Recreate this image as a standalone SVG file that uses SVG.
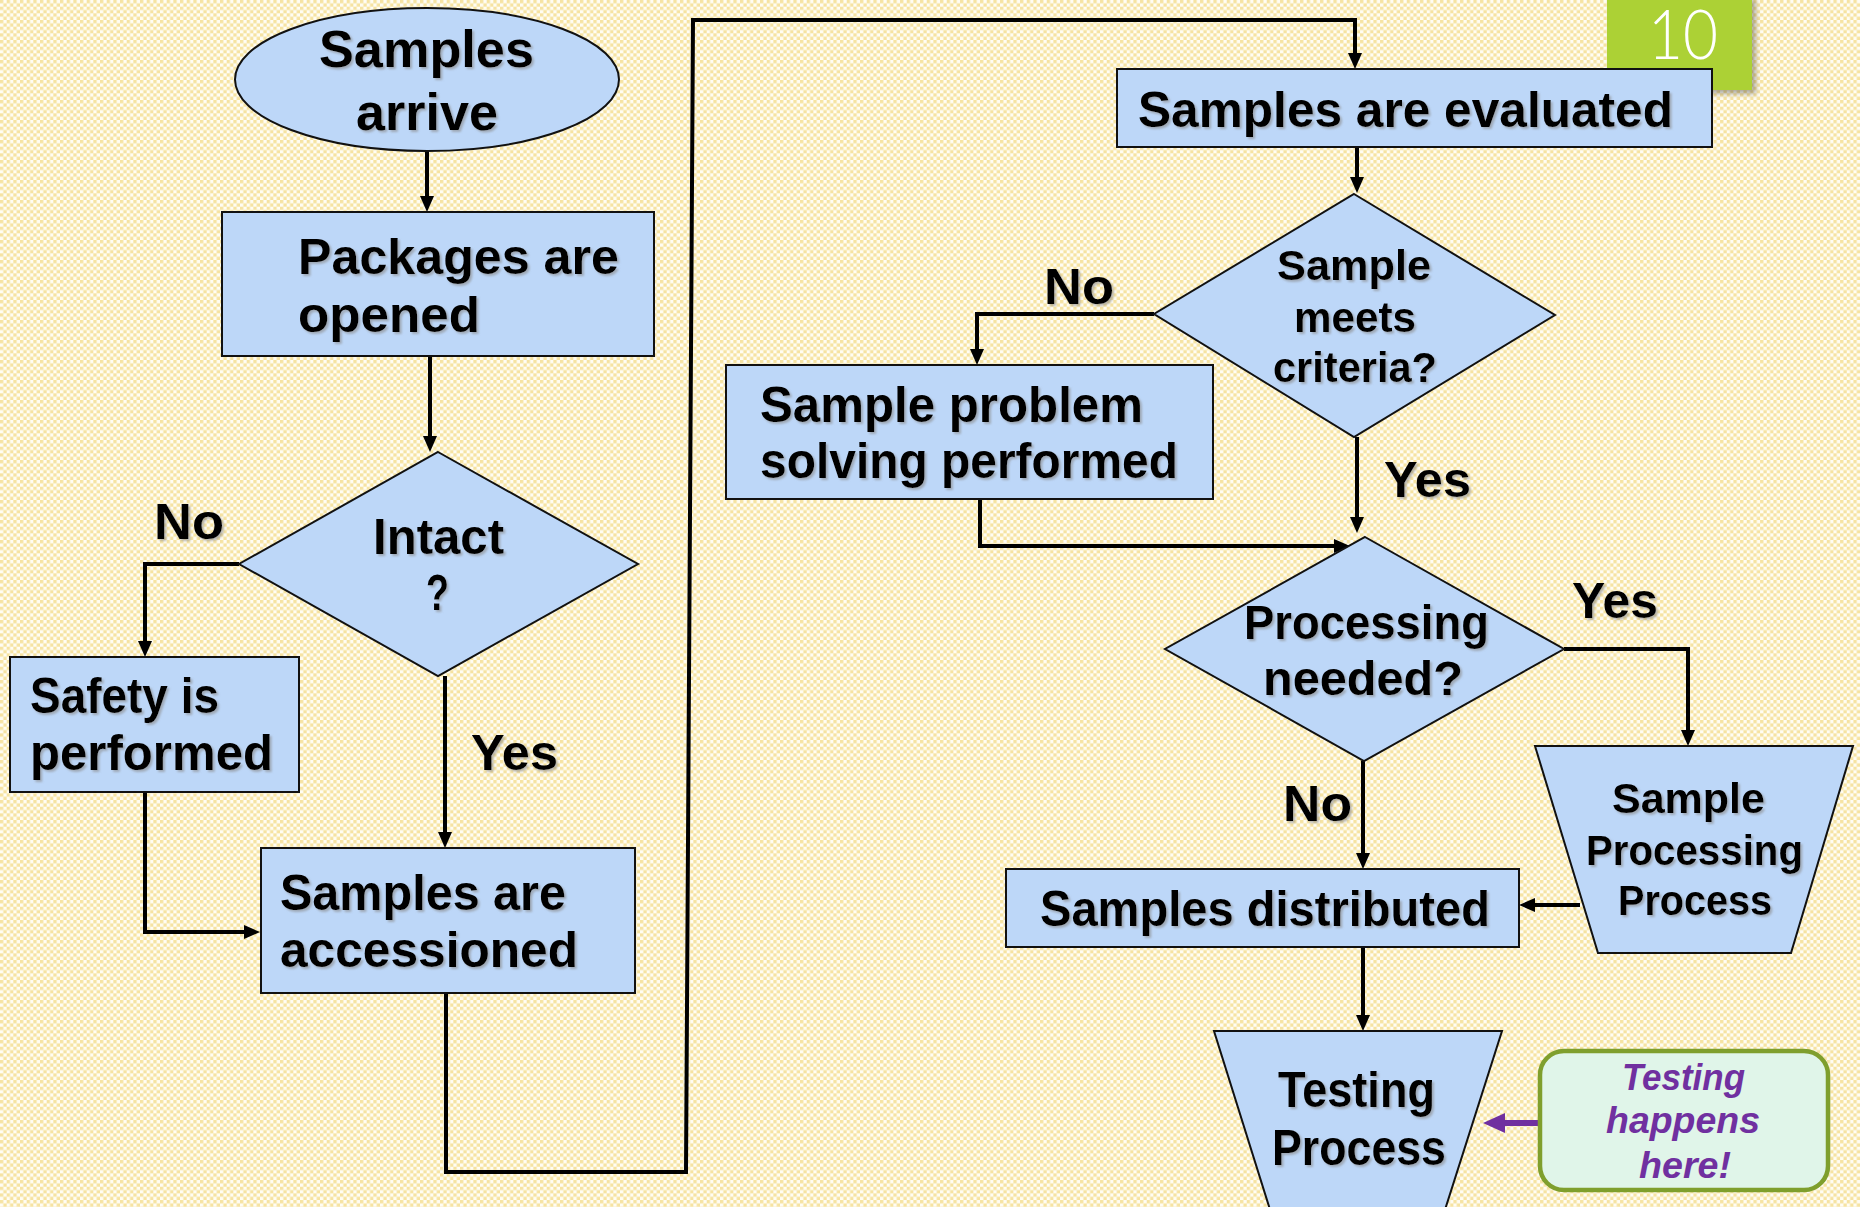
<svg xmlns="http://www.w3.org/2000/svg" width="1860" height="1207" viewBox="0 0 1860 1207">
  <defs>
    <!-- checkered slide background -->
    <pattern id="checks" patternUnits="userSpaceOnUse" width="6.667" height="6.667">
      <rect width="6.667" height="6.667" fill="#fffdf4"/>
      <rect width="3.333" height="3.333" fill="#f6e3a2"/>
      <rect x="3.333" y="3.333" width="3.333" height="3.333" fill="#f6e3a2"/>
    </pattern>
    <filter id="txtShadow" x="-5%" y="-20%" width="115%" height="150%">
      <feDropShadow dx="2" dy="2" stdDeviation="0.8" flood-color="#8a8a8a" flood-opacity="0.6"/>
    </filter>
    <filter id="badgeShadow" x="-10%" y="-10%" width="130%" height="130%">
      <feDropShadow dx="4" dy="4" stdDeviation="2.5" flood-color="#000" flood-opacity="0.3"/>
    </filter>
    <marker id="arrow" markerUnits="userSpaceOnUse" markerWidth="18" markerHeight="16" refX="11" refY="7" orient="auto">
      <path d="M0,0 L16,7 L0,14 z" fill="#000"/>
    </marker>
    <marker id="arrowPurple" markerUnits="userSpaceOnUse" markerWidth="24" markerHeight="22" refX="15" refY="10" orient="auto">
      <path d="M0,0 L22,10 L0,20 z" fill="#7030a0"/>
    </marker>
    <style>
      .node { fill: #bdd7f8; stroke: #111; stroke-width: 2; }
      .conn { fill: none; stroke: #000; stroke-width: 4; stroke-linejoin: miter; }
      .lbl { font-family: "Liberation Sans", Arial, sans-serif; font-weight: bold; fill: #000; }
      .big { font-size: 50px; }
      .mid { font-size: 42px; }
      .note { font-family: "Liberation Sans", Arial, sans-serif; font-weight: bold; font-style: italic; font-size: 37px; fill: #7030a0; }
    </style>
  </defs>

  <rect width="1860" height="1207" fill="url(#checks)"/>

  <!-- slide number badge -->
  <g id="slide-number">
    <rect x="1607" y="-5" width="145" height="95" fill="#acd136" filter="url(#badgeShadow)"/>
    <text x="1648" y="59" font-family="Lato, 'Open Sans', 'Liberation Sans', sans-serif" font-weight="300" font-size="68" fill="#fff" textLength="70" lengthAdjust="spacingAndGlyphs">10</text>
  </g>

  <!-- connectors -->
  <g id="connectors">
    <path class="conn" d="M427,151 V207" marker-end="url(#arrow)"/>
    <path class="conn" d="M430,356 V447" marker-end="url(#arrow)"/>
    <path class="conn" d="M239,564 H145 V652" marker-end="url(#arrow)"/>
    <path class="conn" d="M445,676 V843" marker-end="url(#arrow)"/>
    <path class="conn" d="M145,792 V932 H255" marker-end="url(#arrow)"/>
    <path class="conn" d="M446,993 V1172 H686 L693,20 H1355 V64" marker-end="url(#arrow)"/>
    <path class="conn" d="M1357,147 V188" marker-end="url(#arrow)"/>
    <path class="conn" d="M1154,314 H977 V360" marker-end="url(#arrow)"/>
    <path class="conn" d="M1357,437 V528" marker-end="url(#arrow)"/>
    <path class="conn" d="M980,499 V546 H1345" marker-end="url(#arrow)"/>
    <path class="conn" d="M1564,649 H1688 V741" marker-end="url(#arrow)"/>
    <path class="conn" d="M1363,761 V864" marker-end="url(#arrow)"/>
    <path class="conn" d="M1580,905 H1524" marker-end="url(#arrow)"/>
    <path class="conn" d="M1363,948 V1026" marker-end="url(#arrow)"/>
    <path d="M1540,1123 H1490" fill="none" stroke="#7030a0" stroke-width="6" marker-end="url(#arrowPurple)"/>
    <!-- branch labels -->
    <g filter="url(#txtShadow)">
      <text class="lbl big" x="154" y="539" textLength="70" lengthAdjust="spacingAndGlyphs">No</text>
      <text class="lbl big" x="471" y="770" textLength="87" lengthAdjust="spacingAndGlyphs">Yes</text>
      <text class="lbl big" x="1044" y="304" textLength="70" lengthAdjust="spacingAndGlyphs">No</text>
      <text class="lbl big" x="1384" y="497" textLength="87" lengthAdjust="spacingAndGlyphs">Yes</text>
      <text class="lbl big" x="1572" y="618" textLength="86" lengthAdjust="spacingAndGlyphs">Yes</text>
      <text class="lbl big" x="1283" y="821" textLength="69" lengthAdjust="spacingAndGlyphs">No</text>
    </g>
  </g>

  <g id="samples-arrive">
    <ellipse class="node" cx="427" cy="79.5" rx="192" ry="71.5"/>
    <g filter="url(#txtShadow)">
      <text class="lbl" font-size="52" x="319" y="67" textLength="215" lengthAdjust="spacingAndGlyphs">Samples</text>
      <text class="lbl" font-size="52" x="356" y="130" textLength="142" lengthAdjust="spacingAndGlyphs">arrive</text>
    </g>
  </g>

  <g id="packages-opened">
    <rect class="node" x="222" y="212" width="432" height="144"/>
    <g filter="url(#txtShadow)">
      <text class="lbl big" x="298" y="274" textLength="321" lengthAdjust="spacingAndGlyphs">Packages are</text>
      <text class="lbl big" x="298" y="332" textLength="182" lengthAdjust="spacingAndGlyphs">opened</text>
    </g>
  </g>

  <g id="intact">
    <polygon class="node" points="438,452 638,564 438,676 239,564"/>
    <g filter="url(#txtShadow)">
      <text class="lbl big" x="373" y="554" textLength="131" lengthAdjust="spacingAndGlyphs">Intact</text>
      <text class="lbl big" x="426" y="610" textLength="23" lengthAdjust="spacingAndGlyphs">?</text>
    </g>
  </g>

  <g id="safety">
    <rect class="node" x="10" y="657" width="289" height="135"/>
    <g filter="url(#txtShadow)">
      <text class="lbl big" x="30" y="713" textLength="189" lengthAdjust="spacingAndGlyphs">Safety is</text>
      <text class="lbl big" x="30" y="770" textLength="243" lengthAdjust="spacingAndGlyphs">performed</text>
    </g>
  </g>

  <g id="accessioned">
    <rect class="node" x="261" y="848" width="374" height="145"/>
    <g filter="url(#txtShadow)">
      <text class="lbl big" x="280" y="910" textLength="286" lengthAdjust="spacingAndGlyphs">Samples are</text>
      <text class="lbl big" x="280" y="967" textLength="298" lengthAdjust="spacingAndGlyphs">accessioned</text>
    </g>
  </g>

  <g id="evaluated">
    <rect class="node" x="1117" y="69" width="595" height="78"/>
    <text class="lbl big" filter="url(#txtShadow)" x="1138" y="127" textLength="535" lengthAdjust="spacingAndGlyphs">Samples are evaluated</text>
  </g>

  <g id="meets-criteria">
    <polygon class="node" points="1354,194 1555,315 1354,437 1154,314"/>
    <g filter="url(#txtShadow)">
      <text class="lbl mid" x="1277" y="280" textLength="154" lengthAdjust="spacingAndGlyphs">Sample</text>
      <text class="lbl mid" x="1294" y="332" textLength="122" lengthAdjust="spacingAndGlyphs">meets</text>
      <text class="lbl mid" x="1273" y="382" textLength="164" lengthAdjust="spacingAndGlyphs">criteria?</text>
    </g>
  </g>

  <g id="problem-solving">
    <rect class="node" x="726" y="365" width="487" height="134"/>
    <g filter="url(#txtShadow)">
      <text class="lbl big" x="760" y="422" textLength="383" lengthAdjust="spacingAndGlyphs">Sample problem</text>
      <text class="lbl big" x="760" y="478" textLength="418" lengthAdjust="spacingAndGlyphs">solving performed</text>
    </g>
  </g>

  <g id="processing-needed">
    <polygon class="node" points="1365,537 1564,649 1364,761 1165,649"/>
    <g filter="url(#txtShadow)">
      <text class="lbl" font-size="48" x="1244" y="639" textLength="245" lengthAdjust="spacingAndGlyphs">Processing</text>
      <text class="lbl" font-size="48" x="1263" y="695" textLength="200" lengthAdjust="spacingAndGlyphs">needed?</text>
    </g>
  </g>

  <g id="sample-processing">
    <polygon class="node" points="1535,746 1853,746 1791,953 1598,953"/>
    <g filter="url(#txtShadow)">
      <text class="lbl mid" x="1612" y="813" textLength="153" lengthAdjust="spacingAndGlyphs">Sample</text>
      <text class="lbl mid" x="1586" y="865" textLength="217" lengthAdjust="spacingAndGlyphs">Processing</text>
      <text class="lbl mid" x="1618" y="915" textLength="154" lengthAdjust="spacingAndGlyphs">Process</text>
    </g>
  </g>

  <g id="distributed">
    <rect class="node" x="1006" y="869" width="513" height="78"/>
    <text class="lbl big" filter="url(#txtShadow)" x="1040" y="926" textLength="450" lengthAdjust="spacingAndGlyphs">Samples distributed</text>
  </g>

  <g id="testing-process">
    <polygon class="node" points="1214,1031 1502,1031 1443,1216 1272,1216"/>
    <g filter="url(#txtShadow)">
      <text class="lbl big" x="1278" y="1107" textLength="157" lengthAdjust="spacingAndGlyphs">Testing</text>
      <text class="lbl big" x="1272" y="1165" textLength="174" lengthAdjust="spacingAndGlyphs">Process</text>
    </g>
  </g>

  <g id="testing-note">
    <rect x="1540" y="1051" width="288" height="139" rx="24" ry="24" fill="#e0f5e9" stroke="#7f9f2d" stroke-width="4.5"/>
    <text class="note" x="1622" y="1090" textLength="123" lengthAdjust="spacingAndGlyphs">Testing</text>
    <text class="note" x="1606" y="1133" textLength="154" lengthAdjust="spacingAndGlyphs">happens</text>
    <text class="note" x="1639" y="1178" textLength="92" lengthAdjust="spacingAndGlyphs">here!</text>
  </g>
</svg>
